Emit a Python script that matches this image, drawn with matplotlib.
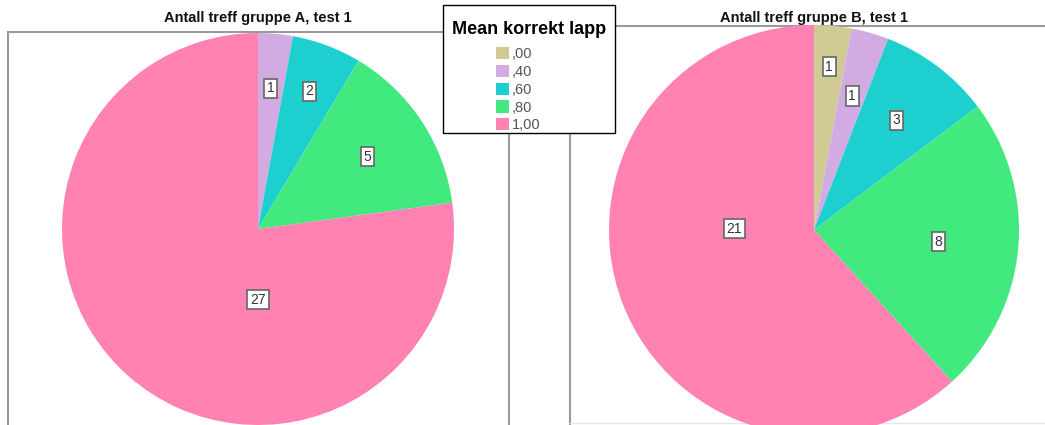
import numpy as np
import matplotlib
matplotlib.use("Agg")
import matplotlib.pyplot as plt
from matplotlib.patches import Patch, Rectangle
from matplotlib.lines import Line2D

plt.rcParams['font.family'] = ['Liberation Sans', 'DejaVu Sans']

# data
categories = [',00', ',40', ',60', ',80', '1,00']
colors = ['#D0CB92', '#D3ABE3', '#1ECFCF', '#42E97E', '#FF82B3']

title_a = 'Antall treff gruppe A, test 1'
counts_a = [0, 1, 2, 5, 27]
title_b = 'Antall treff gruppe B, test 1'
counts_b = [1, 1, 3, 8, 21]

W, H = 1045, 425
fig = plt.figure(figsize=(W / 100, H / 100), dpi=100)


def px(x, y):
    return x / W, 1 - y / H


def frame_line(x0, y0, x1, y1, color='#9a9a9a', lw=1.5):
    a = px(x0, y0)
    b = px(x1, y1)
    fig.add_artist(Line2D([a[0], b[0]], [a[1], b[1]], transform=fig.transFigure,
                          color=color, lw=lw, zorder=0))


# panel frames
frame_line(8, 32, 8, 430)
frame_line(8, 32, 509, 32)
frame_line(509, 32, 509, 430)
frame_line(570, 26, 570, 430)
frame_line(570, 26, 1050, 26)
frame_line(570, 423, 1050, 423, color='#e6e6e6', lw=1.0)


def draw_pie(cx, cy, r, counts, title, label_r, big_angle, big_r):
    ax = fig.add_axes([(cx - r) / W, (H - cy - r) / H, 2 * r / W, 2 * r / H])
    ax.set_aspect('equal')
    ax.axis('off')
    vals = [c for c in counts if c > 0]
    cols = [colors[i] for i, c in enumerate(counts) if c > 0]
    wedges, _ = ax.pie(vals, colors=cols, startangle=90, counterclock=False,
                       radius=1, wedgeprops=dict(linewidth=0))
    ax.set_xlim(-1, 1)
    ax.set_ylim(-1, 1)
    big = int(np.argmax(vals))
    for i, (w, v) in enumerate(zip(wedges, vals)):
        mid = (w.theta1 + w.theta2) / 2
        rr = label_r[i]
        if i == big:
            mid = 90 - big_angle
            rr = big_r
        x = rr * np.cos(np.radians(mid))
        y = rr * np.sin(np.radians(mid))
        ax.text(x, y, str(v), ha='center', va='center', fontsize=10, color='#333333',
                bbox=dict(boxstyle='square,pad=0.2', fc='white', ec='#666666', lw=1.2))
    tx, ty = px(cx, 18)
    fig.text(tx, ty, title, ha='center', va='center', fontsize=10.5,
             fontweight='bold', color='#111111')
    return ax


draw_pie(258, 229, 196, counts_a, title_a, [0.72, 0.75, 0.67, 0.36], 180, 0.36)
draw_pie(814, 230, 205, counts_b, title_b, [0.80, 0.68, 0.67, 0.61, 0.39], 271, 0.39)

# legend box
bx0, by0 = px(443, 133)
fig.add_artist(Rectangle((bx0, by0), 172 / W, 128 / H, transform=fig.transFigure,
                         fc='white', ec='black', lw=1.0, zorder=5))
lx, ly = px(529, 29)
fig.text(lx, ly, 'Mean korrekt lapp', ha='center', va='center', fontsize=13,
         fontweight='bold', color='black', zorder=6)
handles = [Patch(facecolor=c, edgecolor='none') for c in colors]
leg = fig.legend(handles, categories, loc='upper left',
                 bbox_to_anchor=px(489, 40), frameon=False, fontsize=10.5,
                 handlelength=0.9, handleheight=0.9, handletextpad=0.15,
                 labelspacing=0.25, borderpad=0, labelcolor='#555555')
leg.set_zorder(7)

fig.savefig('out.png', dpi=100)
